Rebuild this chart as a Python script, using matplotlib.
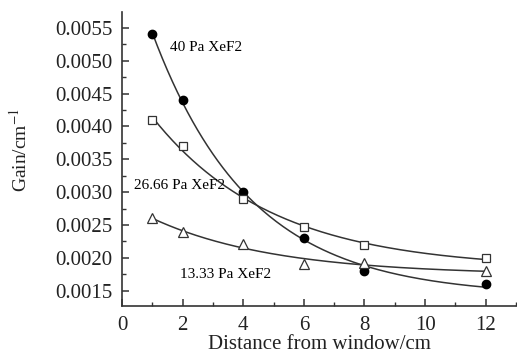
import matplotlib
matplotlib.use("Agg")
import matplotlib.pyplot as plt
import numpy as np
from matplotlib.ticker import MultipleLocator, FormatStrFormatter

plt.rcParams['font.family'] = ['Liberation Serif', 'DejaVu Serif']
plt.rcParams['mathtext.fontset'] = 'stix'

# distance from window (cm)
distance = [1, 2, 4, 6, 8, 12]

# gain (1/cm) for each XeF2 pressure
gain_40 = [0.0054, 0.0044, 0.0030, 0.0023, 0.0018, 0.0016]
gain_2666 = [0.0041, 0.0037, 0.0029, 0.00247, 0.0022, 0.0020]
gain_1333 = [0.0026, 0.0024, 0.00221, 0.00191, 0.00192, 0.0018]

labels = ['40 Pa XeF2', '26.66 Pa XeF2', '13.33 Pa XeF2']


def exp_fit(x, y):
    # least squares fit of y = a*exp(-x/t) + c, grid search over t
    x = np.asarray(x, float)
    y = np.asarray(y, float)
    best = None
    for t in np.linspace(0.3, 30, 3000):
        A = np.column_stack([np.exp(-x / t), np.ones_like(x)])
        coef, *_ = np.linalg.lstsq(A, y, rcond=None)
        err = np.sum((A @ coef - y) ** 2)
        if best is None or err < best[0]:
            best = (err, t, coef)
    _, t, (a, c) = best
    return lambda xx: a * np.exp(-xx / t) + c


fig = plt.figure(figsize=(5.17, 3.54), dpi=100)
ax = fig.add_axes([0.236, 0.136, 0.762, 0.83])

line_col = '#333333'
xs = np.linspace(1, 12, 200)

series = [
    (gain_40, dict(marker='o', mfc='black', mec='black', ms=6)),
    (gain_2666, dict(marker='s', mfc='white', mec='#333333', ms=6, mew=0.9)),
    (gain_1333, dict(marker='^', mfc='white', mec='#333333', ms=7, mew=0.9)),
]
for vals, mk in series:
    f = exp_fit(distance, vals)
    ax.plot(xs, f(xs), color=line_col, lw=1.1, zorder=2)
    ax.plot(distance, vals, linestyle='none', zorder=3, **mk)

ax.text(1.57, 0.00520, labels[0], fontsize=11, va='center', ha='left')
ax.text(0.39, 0.00310, labels[1], fontsize=11, va='center', ha='left')
ax.text(1.93, 0.00174, labels[2], fontsize=11, va='center', ha='left')

ax.set_xlim(0, 13)
ax.set_ylim(0.00127, 0.00574)
ax.xaxis.set_major_locator(MultipleLocator(2))
ax.xaxis.set_minor_locator(MultipleLocator(1))
ax.yaxis.set_major_locator(MultipleLocator(0.0005))
ax.yaxis.set_minor_locator(MultipleLocator(0.00025))
ax.yaxis.set_major_formatter(FormatStrFormatter('%.4f'))
ax.set_xticks([0, 2, 4, 6, 8, 10, 12])

for s in ['top', 'right']:
    ax.spines[s].set_visible(False)
for s in ['left', 'bottom']:
    ax.spines[s].set_linewidth(1.2)
    ax.spines[s].set_color('#333333')

ax.tick_params(which='major', direction='in', length=5, width=1.1,
               labelsize=15, pad=7, colors='#333333', labelcolor='#222222')
ax.tick_params(which='minor', direction='in', length=3, width=1.0, colors='#333333')

ax.set_xlabel('Distance from window/cm', fontsize=15, labelpad=0, color='#222222')
ax.set_ylabel('Gain/cm$^{-1}$', fontsize=14, color='#222222')
ax.yaxis.set_label_coords(-0.232, 0.53)

fig.savefig('out.png', dpi=100)
